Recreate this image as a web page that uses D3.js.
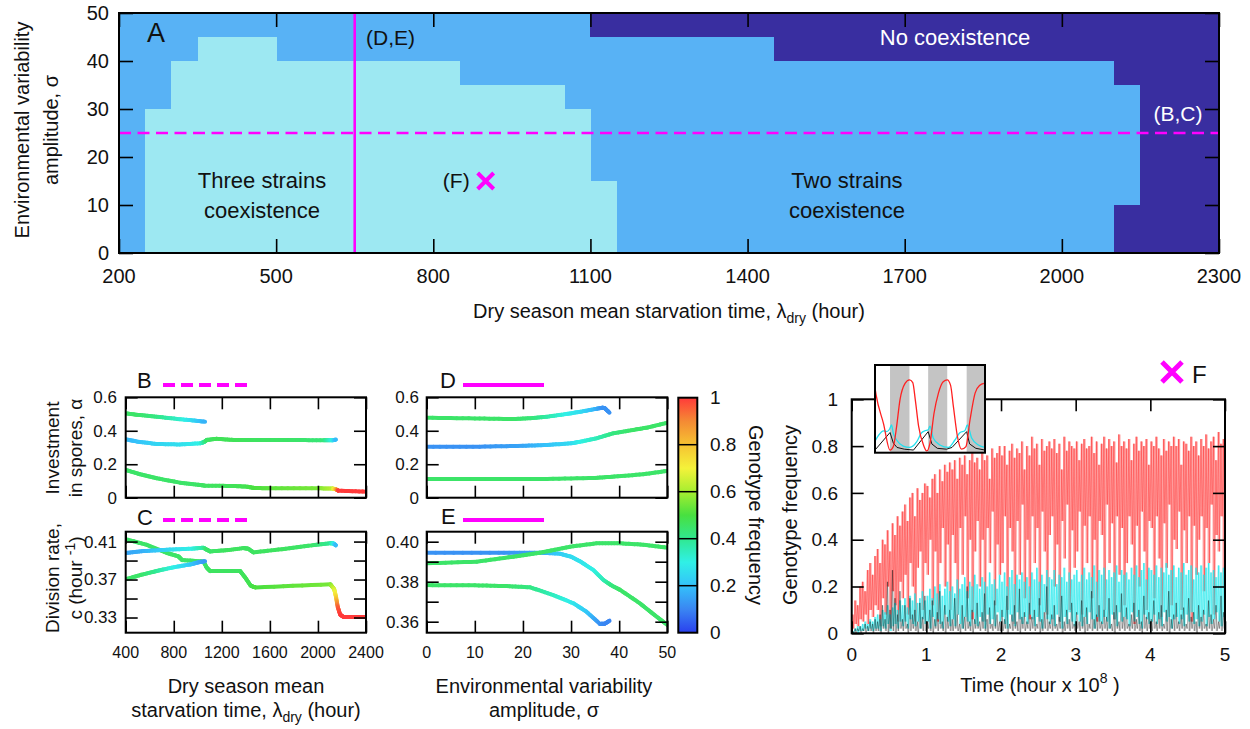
<!DOCTYPE html>
<html><head><meta charset="utf-8">
<script src="https://cdn.jsdelivr.net/npm/d3@7"></script>
<style>body{margin:0;background:#fff;} svg{display:block;}</style>
</head><body>
<svg id="c" width="1250" height="729" style='font-family:"Liberation Sans",Arial,Helvetica,sans-serif'></svg>
<script>
// ---------------- DATA ----------------
// Panel A (phase diagram): x = dry season mean starvation time, y = sigma
const aXTicks = [200,500,800,1100,1400,1700,2000,2300];
const aYTicks = [0,10,20,30,40,50];
// three-strain region: [lambdaFrom, lambdaTo, sigmaTop]
const threeStrainSteps = [[250,300,30],[300,350,40],[350,500,45],[500,850,40],[850,1050,35],[1050,1100,30],[1100,1150,15]];
// no coexistence blocks: [lambdaFrom, lambdaTo, sigmaFrom, sigmaTo]
const noCoexBlocks = [[1100,1450,45,50],[1450,2100,40,50],[2100,2150,35,50],[2100,2150,0,10],[2150,2300,0,50]];
const sectionSigma = 25, sectionLambda = 650, pointF = [900,15];

// Panels B,C (vs lambda) ; D,E (vs sigma). Each point: [x, value, genotype frequency]
const bcXTicks = [400,800,1200,1600,2000,2400];
const bYTicks = [0,0.2,0.4,0.6];
const cYTicks = [0.33,0.35,0.37,0.39,0.41];
const cYLabels = [0.33,0.37,0.41];
const deXTicks = [0,10,20,30,40,50];
const dYTicks = [0,0.2,0.4,0.6];
const eYTicks = [0.36,0.37,0.38,0.39,0.40];
const eYLabels = [0.36,0.38,0.40];

const bLine1 = [[400,0.504,0.45],[500,0.495,0.45],[658,0.484,0.42],[852,0.469,0.33],[960,0.462,0.25],[1061,0.454,0.17]];
const bLine2 = [[400,0.349,0.18],[500,0.335,0.2],[658,0.321,0.24],[850,0.318,0.26],[1020,0.325,0.3],[1050,0.332,0.38],[1075,0.345,0.45],[1156,0.352,0.47],[1300,0.345,0.47],[1500,0.345,0.46],[1800,0.345,0.45],[2050,0.343,0.43],[2120,0.343,0.3],[2150,0.347,0.18]];
const bLine3 = [[400,0.166,0.45],[520,0.14,0.45],[658,0.116,0.45],[852,0.09,0.45],[1000,0.078,0.45],[1061,0.072,0.46],[1300,0.07,0.47],[1408,0.066,0.48],[1470,0.058,0.5],[1600,0.056,0.52],[2000,0.056,0.55],[2120,0.055,0.62],[2150,0.05,0.8],[2170,0.042,1],[2400,0.036,1]];

const cLine1 = [[400,0.4125,0.45],[575,0.4066,0.45],[742,0.398,0.45],[838,0.3945,0.45],[870,0.3905,0.45],[1047,0.389,0.45],[1075,0.3824,0.45],[1103,0.3789,0.46],[1353,0.3789,0.46],[1395,0.372,0.47],[1440,0.3635,0.48],[1480,0.3617,0.5],[2103,0.365,0.55],[2135,0.36,0.65],[2150,0.352,0.75],[2165,0.341,0.95],[2185,0.333,1],[2213,0.3306,1],[2400,0.3306,1]];
const cLine2 = [[400,0.398,0.15],[550,0.4,0.17],[742,0.4014,0.24],[950,0.4025,0.3],[1047,0.4035,0.38],[1075,0.4015,0.45],[1103,0.3996,0.45],[1250,0.401,0.46],[1380,0.4031,0.46],[1420,0.4025,0.46],[1463,0.3986,0.46],[1700,0.402,0.46],[1950,0.406,0.45],[2103,0.4083,0.4],[2130,0.408,0.3],[2150,0.406,0.18]];
const cLine3 = [[400,0.3703,0.45],[530,0.375,0.45],[658,0.379,0.4],[800,0.383,0.3],[936,0.3859,0.22],[1000,0.388,0.17],[1061,0.3893,0.13]];

const dLine1 = [[0,0.478,0.45],[10,0.474,0.45],[18,0.47,0.45],[22,0.476,0.43],[25,0.484,0.38],[29,0.5,0.3],[32,0.514,0.26],[35,0.53,0.18],[36.5,0.538,0.12],[37,0.535,0.12],[38,0.508,0.12]];
const dLine2 = [[0,0.305,0.12],[11,0.305,0.12],[20,0.31,0.15],[25,0.315,0.2],[30,0.325,0.25],[32,0.335,0.3],[35.3,0.355,0.35],[38.8,0.385,0.42],[42.9,0.405,0.45],[46,0.42,0.45],[50,0.448,0.45]];
const dLine3 = [[0,0.112,0.45],[25,0.112,0.45],[35,0.118,0.45],[39,0.126,0.45],[45,0.14,0.45],[50,0.16,0.45]];

const eLine1 = [[0,0.3945,0.12],[15,0.3945,0.12],[23.5,0.3945,0.15],[27.7,0.394,0.22],[30,0.3925,0.25],[32,0.39,0.27],[34.6,0.3859,0.3],[36.7,0.3809,0.35],[38.5,0.378,0.42],[40.2,0.3759,0.45],[44.3,0.3692,0.45],[47,0.364,0.45],[50,0.3584,0.45]];
const eLine2 = [[0,0.3892,0.45],[10.4,0.39,0.45],[18,0.3925,0.45],[23.5,0.3945,0.45],[29.8,0.3975,0.45],[35.3,0.3992,0.45],[40.2,0.3992,0.45],[45,0.3985,0.45],[50,0.397,0.45]];
const eLine3 = [[0,0.3783,0.45],[10,0.3782,0.45],[16.6,0.3778,0.45],[21.5,0.3772,0.42],[26.3,0.3733,0.35],[30.5,0.3692,0.28],[33.2,0.365,0.22],[36,0.3589,0.12],[37,0.359,0.1],[38,0.3605,0.1]];

const cbTicks = [0,0.2,0.4,0.6,0.8,1];

// Panel F: genotype frequency time series, per-bin maxima (peaks) and minima (troughs)
const fXTicks = [0,1,2,3,4,5];
const fYTicks = [0,0.2,0.4,0.6,0.8,1];
const redPeaks = [0.08,0.14,0.12,0.2,0.22,0.18,0.27,0.3,0.25,0.33,
 0.36,0.3,0.4,0.38,0.44,0.35,0.47,0.42,0.5,0.46,
 0.52,0.55,0.48,0.58,0.6,0.5,0.62,0.57,0.6,0.64,
 0.63,0.58,0.66,0.68,0.6,0.7,0.65,0.72,0.69,0.73,
 0.7,0.74,0.66,0.75,0.72,0.76,0.68,0.74,0.77,0.73,
 0.75,0.7,0.78,0.74,0.76,0.66,0.79,0.75,0.77,0.8,
 0.76,0.8,0.72,0.78,0.81,0.75,0.79,0.77,0.82,0.7,
 0.8,0.76,0.84,0.79,0.81,0.72,0.83,0.78,0.8,0.82,
 0.79,0.83,0.77,0.81,0.7,0.84,0.78,0.82,0.8,0.79,
 0.82,0.74,0.81,0.83,0.79,0.8,0.84,0.77,0.82,0.72,
 0.81,0.84,0.79,0.83,0.8,0.82,0.73,0.85,0.8,0.82,
 0.79,0.83,0.74,0.81,0.84,0.78,0.82,0.8,0.83,0.72,
 0.82,0.8,0.84,0.79,0.76,0.83,0.78,0.82,0.8,0.84,
 0.8,0.83,0.72,0.82,0.81,0.78,0.84,0.8,0.82,0.76,
 0.83,0.8,0.85,0.79,0.82,0.84,0.74,0.86,0.81,0.83];
const redTroughs = [0.02,0.04,0.03,0.06,0.05,0.08,0.04,0.1,0.07,0.12,
 0.1,0.03,0.15,0.08,0.2,0.02,0.18,0.12,0.05,0.22,
 0.15,0.25,0.08,0.3,0.2,0.05,0.28,0.35,0.1,0.3,
 0.25,0.4,0.12,0.35,0.05,0.3,0.45,0.2,0.38,0.1,
 0.42,0.3,0.08,0.45,0.25,0.5,0.15,0.4,0.06,0.35,
 0.48,0.2,0.4,0.05,0.45,0.3,0.52,0.12,0.38,0.25,
 0.3,0.5,0.1,0.45,0.35,0.04,0.48,0.25,0.55,0.15,
 0.4,0.06,0.5,0.3,0.45,0.12,0.52,0.35,0.08,0.42,
 0.5,0.2,0.38,0.05,0.48,0.32,0.55,0.1,0.44,0.28,
 0.35,0.52,0.08,0.46,0.3,0.5,0.15,0.4,0.05,0.48,
 0.42,0.1,0.55,0.3,0.47,0.06,0.5,0.25,0.45,0.12,
 0.3,0.5,0.38,0.04,0.46,0.2,0.52,0.35,0.1,0.48,
 0.45,0.15,0.5,0.32,0.07,0.47,0.28,0.55,0.12,0.4,
 0.36,0.52,0.1,0.44,0.3,0.5,0.05,0.46,0.25,0.4,
 0.5,0.18,0.45,0.3,0.55,0.08,0.42,0.35,0.5,0.2];
const cyanPeaks = [0.01,0.02,0.03,0.03,0.04,0.05,0.04,0.06,0.05,0.07,
 0.08,0.06,0.1,0.09,0.12,0.08,0.11,0.13,0.1,0.14,
 0.12,0.15,0.11,0.16,0.14,0.17,0.13,0.15,0.18,0.14,
 0.16,0.19,0.15,0.2,0.17,0.21,0.16,0.19,0.22,0.18,
 0.2,0.17,0.23,0.19,0.21,0.24,0.18,0.22,0.2,0.25,
 0.21,0.19,0.24,0.22,0.2,0.26,0.21,0.23,0.19,0.25,
 0.22,0.26,0.2,0.24,0.27,0.21,0.25,0.23,0.26,0.22,
 0.24,0.2,0.26,0.23,0.28,0.22,0.25,0.21,0.27,0.24,
 0.23,0.27,0.21,0.25,0.24,0.28,0.22,0.26,0.23,0.25,
 0.27,0.22,0.25,0.28,0.23,0.26,0.24,0.29,0.22,0.27,
 0.25,0.28,0.23,0.27,0.24,0.26,0.29,0.22,0.27,0.25,
 0.26,0.23,0.28,0.25,0.29,0.24,0.27,0.3,0.23,0.28,
 0.27,0.25,0.29,0.24,0.28,0.26,0.3,0.25,0.27,0.29,
 0.24,0.28,0.26,0.3,0.25,0.27,0.29,0.23,0.28,0.26,
 0.29,0.25,0.28,0.3,0.26,0.27,0.24,0.29,0.26,0.28];
const cyanTroughs = [0,0.01,0,0.01,0.01,0.02,0.01,0.02,0.01,0.02,
 0.02,0.01,0.03,0.02,0.04,0.01,0.03,0.04,0.02,0.05,
 0.03,0.05,0.02,0.06,0.04,0.03,0.05,0.02,0.06,0.04,
 0.05,0.02,0.07,0.03,0.06,0.04,0.02,0.08,0.05,0.03,
 0.06,0.03,0.08,0.04,0.02,0.07,0.05,0.03,0.09,0.04,
 0.03,0.07,0.05,0.02,0.08,0.04,0.06,0.03,0.09,0.05,
 0.07,0.04,0.02,0.08,0.05,0.03,0.09,0.06,0.04,0.07,
 0.04,0.08,0.06,0.03,0.07,0.05,0.02,0.09,0.06,0.04,
 0.06,0.03,0.08,0.05,0.02,0.07,0.04,0.09,0.05,0.03,
 0.08,0.05,0.03,0.07,0.04,0.09,0.06,0.02,0.07,0.05,
 0.04,0.07,0.05,0.02,0.08,0.06,0.03,0.09,0.05,0.07,
 0.06,0.03,0.09,0.05,0.07,0.04,0.02,0.08,0.06,0.04,
 0.05,0.08,0.04,0.06,0.03,0.09,0.05,0.07,0.02,0.06,
 0.07,0.04,0.06,0.03,0.08,0.05,0.09,0.04,0.06,0.03,
 0.05,0.08,0.03,0.07,0.04,0.06,0.09,0.05,0.03,0.07];
const blackPeaks = [0.01,0.02,0.02,0.03,0.02,0.04,0.03,0.05,0.04,0.06,
 0.05,0.08,0.12,0.06,0.22,0.1,0.27,0.15,0.08,0.18,
 0.06,0.12,0.04,0.15,0.08,0.1,0.05,0.13,0.07,0.16,
 0.05,0.1,0.14,0.06,0.09,0.18,0.05,0.12,0.07,0.1,
 0.06,0.15,0.08,0.04,0.12,0.07,0.2,0.05,0.1,0.06,
 0.13,0.05,0.09,0.17,0.06,0.11,0.04,0.14,0.08,0.05,
 0.1,0.06,0.16,0.04,0.08,0.12,0.05,0.19,0.07,0.09,
 0.05,0.13,0.07,0.1,0.04,0.15,0.06,0.09,0.2,0.05,
 0.08,0.12,0.04,0.07,0.16,0.05,0.1,0.06,0.13,0.04,
 0.09,0.05,0.14,0.07,0.11,0.04,0.18,0.06,0.08,0.12,
 0.05,0.1,0.07,0.15,0.04,0.09,0.12,0.05,0.17,0.07,
 0.11,0.04,0.08,0.13,0.06,0.1,0.05,0.16,0.07,0.09,
 0.06,0.14,0.05,0.09,0.12,0.04,0.1,0.18,0.06,0.08,
 0.13,0.05,0.08,0.11,0.04,0.15,0.07,0.09,0.05,0.12,
 0.07,0.1,0.04,0.14,0.08,0.06,0.12,0.05,0.16,0.09];
const blackTroughs = [0,0,0.01,0,0.01,0,0.01,0.01,0,0.01,
 0.01,0,0.02,0.01,0,0.02,0.01,0,0.01,0.02,
 0.01,0.02,0,0.01,0.02,0.01,0,0.02,0.01,0.01,
 0.02,0.01,0,0.02,0.01,0.02,0.01,0,0.02,0.01,
 0.01,0.02,0.01,0,0.02,0.01,0.02,0.01,0,0.02,
 0.02,0.01,0.02,0.01,0,0.02,0.01,0.02,0.01,0.01,
 0.01,0.02,0,0.02,0.01,0.02,0.01,0,0.02,0.01,
 0.02,0.01,0.02,0.01,0.02,0,0.01,0.02,0.01,0.02,
 0.01,0.02,0.01,0.02,0,0.01,0.02,0.01,0.02,0.01,
 0.02,0.01,0.02,0,0.01,0.02,0.01,0.02,0.01,0.02,
 0.01,0.02,0.01,0.02,0.01,0,0.02,0.01,0.02,0.01,
 0.02,0.01,0.02,0.01,0.02,0.01,0,0.02,0.01,0.02,
 0.01,0.02,0.01,0.02,0.01,0.02,0.01,0,0.02,0.01,
 0.02,0.01,0.02,0.01,0.02,0.01,0.02,0.01,0,0.02,
 0.01,0.02,0.01,0.02,0.01,0.02,0.01,0.02,0.01,0.02];

// Inset of F: a few seasonal cycles, [time, frequency]
const insetDryBands = [[0.41,0.94],[1.45,1.97],[2.5,3.0]];
const insetRed = [[0,0.74],[0.03,0.66],[0.23,0.335],[0.41,0.03],[0.5,0.07],[0.59,0.3],[0.68,0.6],[0.82,0.79],[0.94,0.83],[1.03,0.8],[1.1,0.6],[1.19,0.3],[1.32,0.09],[1.41,0.02],[1.5,0.11],[1.61,0.45],[1.73,0.68],[1.86,0.81],[1.97,0.83],[2.06,0.77],[2.14,0.52],[2.25,0.18],[2.36,0.04],[2.48,0.07],[2.59,0.37],[2.73,0.68],[2.86,0.77],[2.97,0.79]];
const insetCyan = [[0,0.13],[0.1,0.2],[0.23,0.25],[0.32,0.24],[0.4,0.27],[0.45,0.316],[0.5,0.22],[0.59,0.145],[0.77,0.076],[0.95,0.06],[1.14,0.125],[1.27,0.228],[1.36,0.25],[1.45,0.26],[1.5,0.304],[1.59,0.164],[1.77,0.088],[2.0,0.06],[2.18,0.145],[2.32,0.23],[2.45,0.25],[2.52,0.316],[2.64,0.164],[2.82,0.088],[3.0,0.06]];
const insetBlack = [[0,0.03],[0.41,0.23],[0.5,0.11],[0.6,0.06],[0.8,0.04],[1.05,0.03],[1.45,0.24],[1.55,0.1],[1.7,0.05],[1.95,0.04],[2.1,0.06],[2.5,0.24],[2.58,0.1],[2.75,0.05],[3.0,0.03]];

// ---------------- DRAWING ----------------
const svg = d3.select('#c');
const cmap = d3.scaleLinear()
  .domain([0,0.1,0.2,0.3,0.4,0.5,0.6,0.7,0.8,0.9,1])
  .range(['#2a40ee','#3a86f2','#34c2fa','#30f0e6','#30e890','#48e040','#a6ee30','#f4f23a','#f6c232','#f48a34','#ff3a3a'])
  .clamp(true);

function axes(g, xs, ys, xt, yt, len){
  const [xl,xr]=xs.range(), [yb,yt0]=ys.range();
  const mk=(axis,tr,ticks)=>{
    const a=g.append('g').attr('transform',tr).call(axis.tickValues(ticks).tickSize(-len).tickFormat(()=>''));
    a.select('.domain').remove();
    a.selectAll('line').attr('stroke','#000').attr('stroke-width',1.6);
  };
  mk(d3.axisBottom(xs),`translate(0,${yb})`,xt);
  mk(d3.axisTop(xs),`translate(0,${yt0})`,xt);
  mk(d3.axisLeft(ys),`translate(${xl},0)`,yt);
  mk(d3.axisRight(ys),`translate(${xr},0)`,yt);
  g.append('rect').attr('x',xl).attr('y',yt0).attr('width',xr-xl).attr('height',yb-yt0)
    .attr('fill','none').attr('stroke','#000').attr('stroke-width',2);
}
function xLabels(g,xs,vals,y,size,fmt){
  g.append('g').selectAll('text').data(vals).join('text')
    .attr('x',d=>xs(d)).attr('y',y).attr('text-anchor','middle').attr('font-size',size)
    .attr('fill','#111').text(d=>fmt?fmt(d):String(d));
}
function yLabels(g,ys,vals,x,size,fmt,anchor){
  g.append('g').selectAll('text').data(vals).join('text')
    .attr('x',x).attr('y',d=>ys(d)).attr('dy','0.35em').attr('text-anchor',anchor||'end').attr('font-size',size)
    .attr('fill','#111').text(d=>fmt?fmt(d):String(d));
}
function text(g,x,y,s,size,opt={}){
  return g.append('text').attr('x',x).attr('y',y).attr('font-size',size)
    .attr('text-anchor',opt.anchor||'start').attr('fill',opt.fill||'#111')
    .attr('transform',opt.rot?`rotate(${opt.rot},${x},${y})`:null)
    .attr('dominant-baseline',opt.db||null).text(s);
}
function cross(g,cx,cy,r,w){
  g.append('path').attr('d',`M${cx-r},${cy-r}L${cx+r},${cy+r}M${cx-r},${cy+r}L${cx+r},${cy-r}`)
   .attr('stroke','#ff00ff').attr('stroke-width',w).attr('fill','none');
}
let clipId=0;
function clip(xs,ys){
  const id='clip'+(clipId++);
  const [xl,xr]=xs.range(), [yb,yt]=ys.range();
  svg.append('clipPath').attr('id',id).append('rect').attr('x',xl).attr('y',yt).attr('width',xr-xl).attr('height',yb-yt);
  return `url(#${id})`;
}
function colorLine(g,pts,xs,ys){
  const segs=[];
  for(let i=0;i<pts.length-1;i++){
    const a=pts[i], b=pts[i+1], k=8;
    for(let j=0;j<k;j++){
      const t0=j/k, t1=(j+1)/k, tm=(t0+t1)/2;
      segs.push({x0:a[0]+(b[0]-a[0])*t0, y0:a[1]+(b[1]-a[1])*t0,
                 x1:a[0]+(b[0]-a[0])*t1, y1:a[1]+(b[1]-a[1])*t1, f:a[2]+(b[2]-a[2])*tm});
    }
  }
  g.selectAll(null).data(segs).join('line')
    .attr('x1',d=>xs(d.x0)).attr('y1',d=>ys(d.y0)).attr('x2',d=>xs(d.x1)).attr('y2',d=>ys(d.y1))
    .attr('stroke',d=>cmap(d.f)).attr('stroke-width',4).attr('stroke-linecap','round');
}

// ===== Panel A =====
const xA=d3.scaleLinear([200,2300],[119,1219]), yA=d3.scaleLinear([0,50],[253,13]);
const gA=svg.append('g');
gA.append('rect').attr('x',xA(200)).attr('y',yA(50)).attr('width',xA(2300)-xA(200)).attr('height',yA(0)-yA(50)).attr('fill','#58b2f5');
gA.selectAll('.c3').data(threeStrainSteps).join('rect').attr('shape-rendering','crispEdges')
  .attr('x',d=>xA(d[0])).attr('width',d=>xA(d[1])-xA(d[0])+0.5).attr('y',d=>yA(d[2])).attr('height',d=>yA(0)-yA(d[2]))
  .attr('fill','#9de8f2');
gA.selectAll('.nc').data(noCoexBlocks).join('rect').attr('shape-rendering','crispEdges')
  .attr('x',d=>xA(d[0])).attr('width',d=>xA(d[1])-xA(d[0])+0.5).attr('y',d=>yA(d[3])).attr('height',d=>yA(d[2])-yA(d[3]))
  .attr('fill','#392ea0');
gA.append('line').attr('x1',xA(200)).attr('x2',xA(2300)).attr('y1',yA(sectionSigma)).attr('y2',yA(sectionSigma))
  .attr('stroke','#ff00ff').attr('stroke-width',2.6).attr('stroke-dasharray','12,6.5');
gA.append('line').attr('x1',xA(sectionLambda)).attr('x2',xA(sectionLambda)).attr('y1',yA(0)).attr('y2',yA(50))
  .attr('stroke','#ff00ff').attr('stroke-width',2.6);
cross(gA,xA(pointF[0]),yA(pointF[1]),8,4);
axes(gA,xA,yA,aXTicks,aYTicks,14);
xLabels(gA,xA,aXTicks,283,20);
yLabels(gA,yA,aYTicks,109,20);
text(gA,147,42,'A',27);
text(gA,366,45,'(D,E)',21);
text(gA,xA(pointF[0])-16,188,'(F)',21,{anchor:'end'});
text(gA,262,188,'Three strains',22,{anchor:'middle'});
text(gA,262,218,'coexistence',22,{anchor:'middle'});
text(gA,847,188,'Two strains',22,{anchor:'middle'});
text(gA,847,218,'coexistence',22,{anchor:'middle'});
text(gA,955,45,'No coexistence',22,{anchor:'middle',fill:'#fff'});
text(gA,1178,121,'(B,C)',21,{anchor:'middle',fill:'#fff'});
text(gA,22,130,'Environmental variability',20,{anchor:'middle',rot:-90,db:'central'});
text(gA,51,130,'amplitude, σ',20,{anchor:'middle',rot:-90,db:'central'});
{
  const t=gA.append('text').attr('x',669).attr('y',318).attr('text-anchor','middle').attr('font-size',20).attr('fill','#111');
  t.append('tspan').text('Dry season mean starvation time, λ');
  t.append('tspan').attr('font-size',14).attr('dy',5).text('dry');
  t.append('tspan').attr('dy',-5).text(' (hour)');
}

// ===== Panel B =====
const xB=d3.scaleLinear([400,2400],[125.7,366]), yB=d3.scaleLinear([0,0.6],[497.7,397.3]);
const gB=svg.append('g');
const gBl=gB.append('g').attr('clip-path',clip(xB,yB));
[bLine1,bLine2,bLine3].forEach(l=>colorLine(gBl,l,xB,yB));
axes(gB,xB,yB,bcXTicks,bYTicks,12);
yLabels(gB,yB,bYTicks,117,17);
text(gB,137,388,'B',22);
gB.append('line').attr('x1',163).attr('x2',247).attr('y1',385).attr('y2',385).attr('stroke','#ff00ff').attr('stroke-width',4).attr('stroke-dasharray','12,6');
text(gB,52,448,'Investment',19,{anchor:'middle',rot:-90,db:'central'});
text(gB,75,448,'in spores, α',19,{anchor:'middle',rot:-90,db:'central'});

// ===== Panel C =====
const xC=d3.scaleLinear([400,2400],[125.7,366]), yC=d3.scaleLinear([0.314,0.4204],[632.7,531.7]);
const gC=svg.append('g');
const gCl=gC.append('g').attr('clip-path',clip(xC,yC));
[cLine1,cLine2,cLine3].forEach(l=>colorLine(gCl,l,xC,yC));
axes(gC,xC,yC,bcXTicks,cYTicks,12);
yLabels(gC,yC,cYLabels,117,17,d3.format('.2f'));
xLabels(gC,xC,bcXTicks,658,16);
text(gC,137,525,'C',22);
gC.append('line').attr('x1',163).attr('x2',247).attr('y1',520).attr('y2',520).attr('stroke','#ff00ff').attr('stroke-width',4).attr('stroke-dasharray','12,6');
text(gC,52,578,'Division rate,',19,{anchor:'middle',rot:-90,db:'central'});
{
  const t=gC.append('text').attr('x',75).attr('y',578).attr('text-anchor','middle').attr('font-size',19).attr('fill','#111')
    .attr('dominant-baseline','central').attr('transform','rotate(-90,75,578)');
  t.append('tspan').text('c (hour ');
  t.append('tspan').attr('font-size',14).attr('dy',-5).text('-1');
  t.append('tspan').attr('dy',5).text(')');
}
text(gC,246,693,'Dry season mean',20,{anchor:'middle'});
{
  const t=gC.append('text').attr('x',246).attr('y',717).attr('text-anchor','middle').attr('font-size',20).attr('fill','#111');
  t.append('tspan').text('starvation time, λ');
  t.append('tspan').attr('font-size',14).attr('dy',5).text('dry');
  t.append('tspan').attr('dy',-5).text(' (hour)');
}

// ===== Panel D =====
const xD=d3.scaleLinear([0,50],[426.7,667.3]), yD=d3.scaleLinear([0,0.6],[497.7,397.3]);
const gD=svg.append('g');
const gDl=gD.append('g').attr('clip-path',clip(xD,yD));
[dLine1,dLine2,dLine3].forEach(l=>colorLine(gDl,l,xD,yD));
axes(gD,xD,yD,deXTicks,dYTicks,12);
yLabels(gD,yD,dYTicks,419,17);
text(gD,440,388,'D',22);
gD.append('line').attr('x1',463).attr('x2',544).attr('y1',385).attr('y2',385).attr('stroke','#ff00ff').attr('stroke-width',4);

// ===== Panel E =====
const xE=d3.scaleLinear([0,50],[426.7,667.3]), yE=d3.scaleLinear([0.3545,0.405],[632.7,531.7]);
const gE=svg.append('g');
const gEl=gE.append('g').attr('clip-path',clip(xE,yE));
[eLine1,eLine2,eLine3].forEach(l=>colorLine(gEl,l,xE,yE));
axes(gE,xE,yE,deXTicks,eYTicks,12);
yLabels(gE,yE,eYLabels,419,17,d3.format('.2f'));
xLabels(gE,xE,deXTicks,658,16);
text(gE,441,524,'E',22);
gE.append('line').attr('x1',463).attr('x2',544).attr('y1',520).attr('y2',520).attr('stroke','#ff00ff').attr('stroke-width',4);
text(gE,544,693,'Environmental variability',20,{anchor:'middle'});
text(gE,544,717,'amplitude, σ',20,{anchor:'middle'});

// ===== Colorbar =====
const yCB=d3.scaleLinear([0,1],[632.7,397.7]);
const grad=svg.append('defs').append('linearGradient').attr('id','cbg').attr('x1',0).attr('x2',0).attr('y1',1).attr('y2',0);
d3.range(0,1.0001,0.05).forEach(v=>grad.append('stop').attr('offset',v).attr('stop-color',cmap(v)));
const gCB=svg.append('g');
gCB.append('rect').attr('x',678.3).attr('y',yCB(1)).attr('width',19).attr('height',yCB(0)-yCB(1)).attr('fill','url(#cbg)');
gCB.selectAll('.cbt').data(cbTicks.slice(1,-1)).join('line').attr('x1',678.3).attr('x2',697.3)
  .attr('y1',d=>yCB(d)).attr('y2',d=>yCB(d)).attr('stroke','#000').attr('stroke-width',1.5);
gCB.append('rect').attr('x',678.3).attr('y',yCB(1)).attr('width',19).attr('height',yCB(0)-yCB(1)).attr('fill','none').attr('stroke','#000').attr('stroke-width',2);
yLabels(gCB,yCB,cbTicks,710,19,null,'start');
text(gCB,756,515,'Genotype frequency',20,{anchor:'middle',rot:90,db:'central'});

// ===== Panel F =====
const xF=d3.scaleLinear([0,5],[851.7,1225]), yF=d3.scaleLinear([0,1],[633.3,399.3]);
const gF=svg.append('g');
const gFl=gF.append('g').attr('clip-path',clip(xF,yF));
function bins(peaks,troughs){
  const n=peaks.length;
  return peaks.map((p,i)=>({t:5*(i+0.5)/n, hi:p, lo:troughs[i]}));
}
function zig(peaks,troughs){
  const n=peaks.length, pts=[];
  for(let i=0;i<n;i++){
    pts.push([5*(i+0.35)/n, peaks[i]]);
    pts.push([5*(i+0.85)/n, troughs[i]]);
  }
  return pts;
}
const lineF=d3.line().x(d=>xF(d[0])).y(d=>yF(d[1]));
function series(peaks,troughs,color,bw,bop,lw,lop){
  gFl.append('g').selectAll('line').data(bins(peaks,troughs)).join('line')
    .attr('x1',d=>xF(d.t)).attr('x2',d=>xF(d.t)).attr('y1',d=>yF(d.hi)).attr('y2',d=>yF(d.lo))
    .attr('stroke',color).attr('stroke-width',bw).attr('stroke-opacity',bop);
  gFl.append('path').attr('d',lineF(zig(peaks,troughs))).attr('fill','none').attr('stroke',color).attr('stroke-width',lw).attr('stroke-opacity',lop);
}
series(redPeaks,redTroughs,'#ff3535',2.5,0.45,0.7,0.65);
series(cyanPeaks,cyanTroughs,'#1ee8ec',2.0,0.5,0.7,0.7);
series(blackPeaks,blackTroughs,'#000000',0.8,0.3,0.6,0.5);
axes(gF,xF,yF,fXTicks,fYTicks,12);
xLabels(gF,xF,fXTicks,661,19);
yLabels(gF,yF,fYTicks,838,19);
text(gF,790,515,'Genotype frequency',20,{anchor:'middle',rot:-90,db:'central'});
{
  const t=gF.append('text').attr('x',1040).attr('y',692).attr('text-anchor','middle').attr('font-size',20).attr('fill','#111');
  t.append('tspan').text('Time (hour x 10');
  t.append('tspan').attr('font-size',14).attr('dy',-9).text('8');
  t.append('tspan').attr('dy',9).text(' )');
}
cross(gF,1172,372,10,5);
text(gF,1192,383,'F',24);

// Inset
const xI=d3.scaleLinear([0,3],[875,985]), yI=d3.scaleLinear([0,1],[452.7,365]);
const gI=svg.append('g');
gI.append('rect').attr('x',875).attr('y',365).attr('width',110).attr('height',87.7).attr('fill','#fff');
gI.selectAll('.band').data(insetDryBands).join('rect').attr('x',d=>xI(d[0])).attr('width',d=>xI(d[1])-xI(d[0]))
  .attr('y',yI(1)).attr('height',yI(0)-yI(1)).attr('fill','#c4c4c4');
const gIl=gI.append('g').attr('clip-path',clip(xI,yI));
const lineI=d3.line().x(d=>xI(d[0])).y(d=>yI(d[1])).curve(d3.curveMonotoneX);
gIl.append('path').attr('d',lineI(insetCyan)).attr('fill','none').attr('stroke','#22e0ee').attr('stroke-width',1.3);
gIl.append('path').attr('d',d3.line().x(d=>xI(d[0])).y(d=>yI(d[1]))(insetBlack)).attr('fill','none').attr('stroke','#111').attr('stroke-width',1);
gIl.append('path').attr('d',lineI(insetRed)).attr('fill','none').attr('stroke','#ff2020').attr('stroke-width',1.3);
gI.append('rect').attr('x',875).attr('y',365).attr('width',110).attr('height',87.7).attr('fill','none').attr('stroke','#000').attr('stroke-width',2);
</script>
</body></html>
